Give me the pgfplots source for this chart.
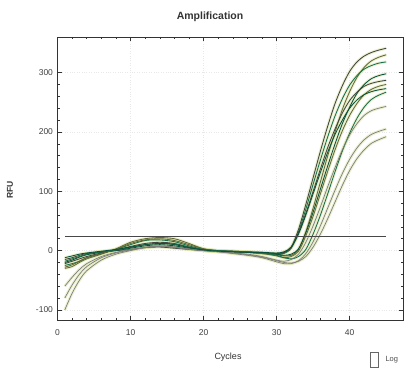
\documentclass[border=0pt]{standalone}
\usepackage{pgfplots}
\usepackage{pgfplotstable}
\pgfplotsset{compat=1.18}
\usepackage{fontspec}
\setmainfont{Liberation Sans}
\definecolor{cDG}{RGB}{65,70,65}
\definecolor{cOL}{RGB}{100,105,55}
\definecolor{cGR}{RGB}{25,110,75}
\definecolor{cDK}{RGB}{10,80,60}
\definecolor{cGY}{RGB}{125,125,125}
\definecolor{cHALO}{RGB}{215,225,160}
\pgfplotstableread{
c a1 a2 a3 a4 a5 a6 a7 a8 a9 a10 a11
1 -15 -30 -25 -20 -22 -28 -18 -60 -100 -80 -12
2 -12 -27 -22 -16 -18 -24 -14 -45 -72 -58 -9
3 -8 -20 -18 -11 -14 -18 -10 -32 -50 -40 -6
4 -5 -14 -12 -7 -10 -12 -6 -22 -34 -27 -4
6 -2 -6 -5 -3 -4 -5 -2 -10 -16 -12 -1
8 0 3 2 0 1 2 1 -3 -6 -4 2
10 2 14 10 4 7 12 5 2 0 1 6
12 5 20 17 8 12 18 10 6 5 5 10
14 6 22 18 10 14 20 12 8 8 7 12
16 4 20 15 8 12 17 11 6 6 5 10
18 2 12 8 4 6 10 6 3 3 2 5
20 0 3 2 1 1 3 2 0 0 0 1
22 -1 -1 0 0 -1 0 0 -2 -2 -2 -1
24 -2 -2 -2 -1 -2 -1 -1 -4 -5 -4 -2
26 -3 -3 -3 -2 -3 -3 -2 -6 -8 -7 -3
28 -5 -4 -4 -3 -4 -5 -4 -10 -12 -11 -3
30 -6 -7 -6 -6 -5 -9 -8 -16 -19 -17 -4
31 -4 -9 -5 -8 -3 -12 -12 -18 -22 -20 -2
32 6 -8 4 -6 5 -10 -14 -15 -22 -21 6
33 36 2 32 3 30 -1 -10 -6 -17 -18 28
34 78 32 70 30 63 25 2 14 -5 -10 60
35 123 72 112 65 100 58 28 42 15 6 96
36 168 116 153 104 138 96 60 74 42 28 132
37 210 160 192 143 174 134 96 108 72 54 166
38 248 200 227 180 205 170 133 140 102 82 196
39 278 238 256 214 232 202 168 170 130 110 220
40 302 268 279 242 253 228 198 195 154 135 240
41 318 292 295 265 267 248 223 214 173 155 254
42 328 309 306 280 277 263 242 228 187 170 263
43 334 320 312 290 282 272 255 236 196 181 268
44 338 326 316 295 285 277 262 240 201 187 271
45 341 330 318 298 287 280 267 243 205 192 273
}\data
\begin{document}
\begin{tikzpicture}
\begin{axis}[
  scale only axis,
  width=345.5pt, height=283pt,
  xmin=0, xmax=47.3, ymin=-117, ymax=360,
  xtick={0,10,20,30,40}, ytick={-100,0,100,200,300},
  minor x tick num=4, minor y tick num=4,
  tick align=inside,
  major tick length=4pt, minor tick length=2.5pt,
  tick style={black!80, line width=0.5pt},
  axis line style={black!80, line width=0.6pt},
  grid=major,
  major grid style={dotted, black!9, line width=0.7pt},
  tick label style={font=\fontsize{8.5}{10}\selectfont, text=black!75},
  /pgf/number format/assume math mode=true,
  xticklabel style={yshift=-6pt},
  yticklabel style={xshift=-1pt},
  clip=true,
]
\pgfplotsinvokeforeach{1,...,11}{
  \addplot[cHALO, opacity=0.5, line width=3pt, smooth, tension=0.5, no marks] table[x=c, y=a#1]{\data};
}
\addplot[cDG, line width=0.85pt, smooth, tension=0.5, no marks] table[x=c, y=a1]{\data};
\addplot[cOL, line width=0.85pt, smooth, tension=0.5, no marks] table[x=c, y=a2]{\data};
\addplot[cGR, line width=0.85pt, smooth, tension=0.5, no marks] table[x=c, y=a3]{\data};
\addplot[cDK, line width=0.85pt, smooth, tension=0.5, no marks] table[x=c, y=a4]{\data};
\addplot[cDG, line width=0.85pt, smooth, tension=0.5, no marks] table[x=c, y=a5]{\data};
\addplot[cOL, line width=0.85pt, smooth, tension=0.5, no marks] table[x=c, y=a6]{\data};
\addplot[cGR, line width=0.85pt, smooth, tension=0.5, no marks] table[x=c, y=a7]{\data};
\addplot[cGY, line width=0.7pt, smooth, tension=0.5, no marks] table[x=c, y=a8]{\data};
\addplot[cGY, line width=0.7pt, smooth, tension=0.5, no marks] table[x=c, y=a9]{\data};
\addplot[cGY, line width=0.7pt, smooth, tension=0.5, no marks] table[x=c, y=a10]{\data};
\addplot[cDK, line width=0.85pt, smooth, tension=0.5, no marks] table[x=c, y=a11]{\data};
% threshold
\addplot[black!72, line width=1.3pt, no marks] coordinates {(1,24) (45,24)};
\coordinate (bl) at (rel axis cs:0,0);
\coordinate (tr) at (rel axis cs:1,1);
\coordinate (br) at (rel axis cs:1,0);
\end{axis}
\node[font=\bfseries\fontsize{10.5}{12}\selectfont, text=black!80] at ([shift={(152.5pt,20pt)}]bl |- tr) {Amplification};
\node[font=\bfseries\fontsize{8.5}{10}\selectfont, text=black!80, rotate=90] at ([shift={(-47.5pt,130pt)}]bl) {RFU};
\node[font=\fontsize{9}{10}\selectfont, text=black!80] at ([shift={(170.5pt,-37pt)}]bl) {Cycles};
\draw[black!60, line width=0.5pt] ([shift={(-33pt,-32pt)}]br) rectangle ([shift={(-25pt,-47pt)}]br);
\node[font=\fontsize{7.5}{9}\selectfont, text=black!70, anchor=west] at ([shift={(-21pt,-40pt)}]br) {Log};
\pgfresetboundingbox
\path ([shift={(-57.5pt,-55pt)}]bl) rectangle ([shift={(8pt,37pt)}]tr);
\end{tikzpicture}
\end{document}
